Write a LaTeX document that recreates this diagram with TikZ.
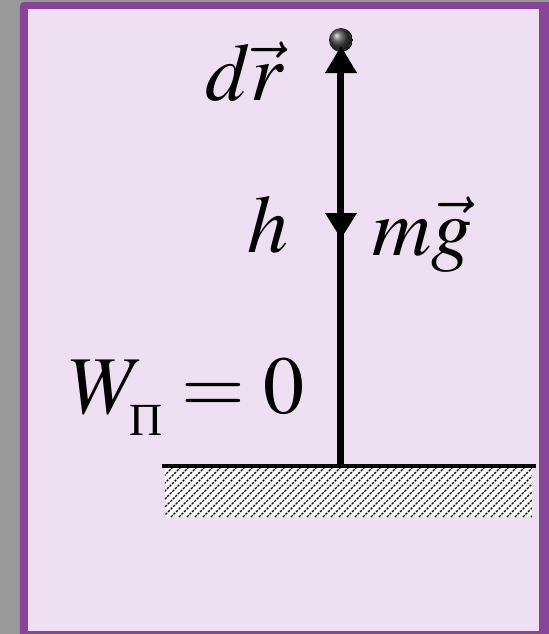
\documentclass[tikz,border=0pt]{standalone}
\usepackage{amsmath}
\usepackage{mathptmx}
\usepackage{fontspec}
\setmainfont{Liberation Serif}
\usetikzlibrary{arrows.meta,decorations.markings,shadings}
\definecolor{bgray}{HTML}{9A9A9A}
\definecolor{framec}{HTML}{88449A}
\definecolor{fillc}{HTML}{EEE0F2}
\newcommand{\cyrsub}{\raisebox{-5pt}{\fontsize{23}{23}\selectfont П}}
\tikzset{
  lbl/.style={anchor=base west, inner sep=0pt, font=\fontsize{41}{48}\selectfont},
  rod/.style={line width=3.5pt, black}
}
\begin{document}
\begin{tikzpicture}[x=0.5pt,y=-0.5pt]
\useasboundingbox (0,0) rectangle (549,634);
\fill[bgray] (0,0) rectangle (549,634);
\fill[framec, rounded corners=2pt] (20,2) rectangle (560,645);
\fill[fillc] (28,9) rectangle (539,631);
% ground
\fill[white] (165,467) rectangle (532,517);
\begin{scope}
\clip (165,467) rectangle (532,517);
\foreach \k in {0,8,...,440}
  \draw[line width=0.6pt, dash pattern=on 1.2pt off 0.6pt] (115+\k,517) -- (165+\k,467);
\end{scope}
\coordinate (g1) at (162,466);
\coordinate (g2) at (536,466);
\draw[line width=1.6pt] (g1) -- (g2);
\coordinate (base) at (341,466);
\node[circle, minimum size=12pt, inner sep=0pt, shading=ball, ball color=black!75] (ball) at (341,40) {};
\draw[rod, {Triangle[width=15pt,length=13.5pt]}-, shorten <=3pt,
  decoration={markings, mark=at position 199pt*0.5 with {\arrow{Triangle[width=15pt,length=13pt]}}},
  postaction={decorate}] (ball.center) -- (base);
\node[lbl] (dr) at (205,100) {$d\vec{r}$};
\node[lbl] (h) at (247,252) {$h$};
\node[lbl] (mg) at (372,255) {$m\vec{g}$};
\node[lbl] (W) at (69,413) {$W_{\cyrsub} = 0$};
\end{tikzpicture}
\end{document}
